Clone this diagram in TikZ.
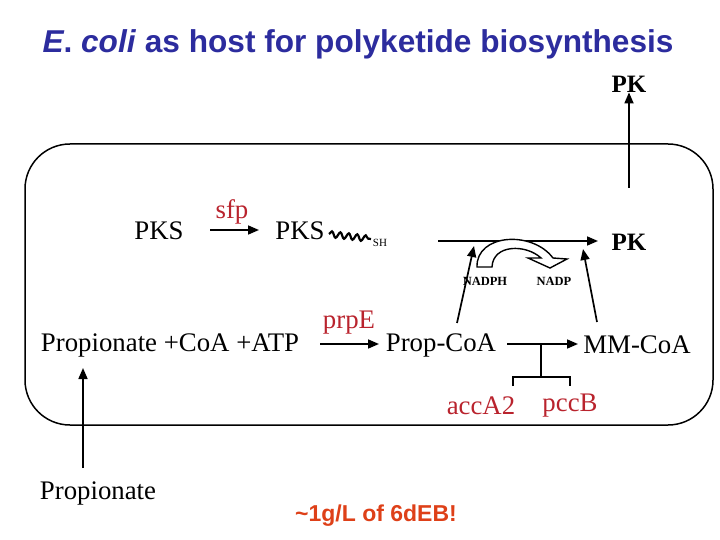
\documentclass[tikz,border=0pt]{standalone}
\usepackage{fontspec}
\setmainfont{Liberation Serif}
\newfontfamily\arialf{Liberation Sans}
\usetikzlibrary{arrows.meta,decorations.pathmorphing,calc}
\definecolor{titleblue}{RGB}{44,44,158}
\definecolor{genered}{RGB}{185,35,45}
\definecolor{notered}{RGB}{222,64,24}
\tikzset{
  txt/.style={inner sep=0pt,font=\fontsize{26.8}{30}\selectfont},
  gene/.style={txt,text=genered},
  bigbold/.style={inner sep=0pt,font=\fontsize{25}{30}\selectfont\bfseries},
  smallbold/.style={inner sep=0pt,font=\fontsize{12.5}{14}\selectfont\bfseries},
  arr/.style={line width=1.7pt,-{Triangle[length=11pt,width=9pt]}},
  plain/.style={line width=1.7pt},
}
\begin{document}
\begin{tikzpicture}[x=1pt,y=-1pt]
\useasboundingbox (0,0) rectangle (720,540);
% title
\node[inner sep=0pt,text=titleblue,font=\arialf\bfseries\fontsize{31.6}{34}\selectfont] (title) at (358,44) {\textit{E}. \textit{coli} as host for polyketide biosynthesis};
% cell
\draw[line width=1.5pt,rounded corners=45pt] (25,144) rectangle (713,425);
% top PK
\node[bigbold] (pktop) at (629,84) {PK};
\coordinate (pkstart) at (629,188);
\draw[arr] (pkstart) -- (pktop.south);
% PKS row
\node[txt] (pks1) at (159,231) {PKS};
\node[gene] (sfp) at (232,212) {sfp};
\node[txt] (pks2) at (300,231) {PKS};
\coordinate (sfpA) at (210,230);
\coordinate (sfpB) at (259,230);
\draw[arr] (sfpA) -- (sfpB);
\coordinate (wavA) at (329,234);
\coordinate (wavB) at (371,239);
\draw[line width=2.2pt,decorate,decoration={snake,amplitude=3pt,segment length=8.5pt}] (wavA) -- (wavB);
\node[inner sep=0pt,font=\fontsize{11}{12}\selectfont] (sh) at (380,243) {SH};
% PK chain line
\node[bigbold] (pkright) at (629,242) {PK};
\coordinate (lineA) at (438,241);
\coordinate (lineB) at (598,241);
\draw[arr] (lineA) -- (lineB);
% hollow curved arrow
\draw[line width=1.4pt,fill=white,line join=miter]
  (477,267) .. controls (476,234) and (532,230) .. (553,258)
  -- (567,259) -- (550,268) -- (528,258) -- (541,258)
  .. controls (526,244) and (493,244) .. (492,267) -- cycle;
\node[smallbold] (nadph) at (485,281) {NADPH};
\node[smallbold] (nadp) at (554,281) {NADP};
% second row
\node[txt] (prop) at (170,345) {Propionate +CoA +ATP};
\node[gene] (prpe) at (349,323) {prpE};
\node[txt] (propcoa) at (441,345) {Prop-CoA};
\node[txt] (mmcoa) at (637,345) {MM-CoA};
\coordinate (prpA) at (320,344);
\coordinate (prpB) at (379,344);
\draw[arr] (prpA) -- (prpB);
\coordinate (mmA) at (507,344);
\coordinate (mmB) at (578,344);
\draw[arr] (mmA) -- (mmB);
% arrows up to chain
\coordinate (upA) at (457,323);
\coordinate (upAt) at (474,246);
\draw[arr] (upA) -- (upAt);
\coordinate (upB) at (597,322);
\coordinate (upBt) at (583,249);
\draw[arr] (upB) -- (upBt);
% enzyme T
\coordinate (tTop) at (541,344);
\coordinate (tMid) at (541,377);
\coordinate (tL) at (513,377);
\coordinate (tR) at (570,377);
\draw[plain] (tTop) -- (tMid);
\draw[plain] ($(tL)+(0,9)$) -- (tL) -- (tR) -- ($(tR)+(0,9)$);
\node[gene] (acc) at (481,406) {accA2};
\node[gene] (pcc) at (570,406) {pccB};
% outside propionate
\node[txt] (propout) at (98,493) {Propionate};
\coordinate (inA) at (83,468);
\coordinate (inB) at (83,368);
\draw[arr] (inA) -- (inB);
% note
\node[inner sep=0pt,text=notered,font=\arialf\bfseries\fontsize{23}{26}\selectfont] (note) at (376,516) {\textasciitilde 1g/L of 6dEB!};
\end{tikzpicture}
\end{document}
